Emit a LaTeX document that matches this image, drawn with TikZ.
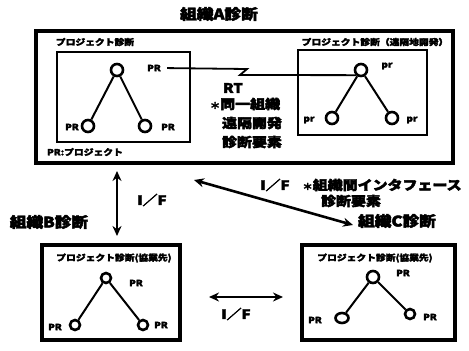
\documentclass[tikz,border=0pt]{standalone}
\usepackage{fontspec}
\newfontfamily\jp[FakeStretch=1.15,BoldFeatures={FakeBold=3}]{Noto Sans CJK JP}
\usetikzlibrary{arrows.meta,shapes.geometric}
\newcommand{\smast}{{\fontsize{9}{9}\selectfont ＊}}
\begin{document}
\begin{tikzpicture}[x=1pt,y=-1pt,
  outerbox/.style={draw,line width=3.5pt},
  innerbox/.style={draw,line width=2.2pt},
  pc/.style={circle,draw,line width=2.6pt,minimum size=12pt,inner sep=0pt},
  pcs/.style={pc,minimum size=10pt},
  edge/.style={line width=2pt},
  lbl/.style={font=\jp\bfseries\fontsize{8.5}{8.5}\selectfont,inner sep=0pt},
  sub/.style={font=\jp\bfseries\fontsize{8.5}{8.5}\selectfont,inner sep=0pt},
  mid/.style={font=\jp\bfseries\fontsize{13}{13}\selectfont,inner sep=0pt},
  big/.style={font=\jp\bfseries\fontsize{14.5}{14.5}\selectfont,inner sep=0pt},
  arr/.style={line width=2.6pt,{Stealth[length=10pt,width=9pt]}-{Stealth[length=10pt,width=9pt]}}]
\useasboundingbox (0,0) rectangle (469,351);
\fill[white] (0,0) rectangle (469,351);
% boxes
\draw[outerbox] (36,31) rectangle (453,163);
\draw[innerbox] (57,52) rectangle (190,142);
\draw[innerbox] (298,50) rectangle (427,135);
\draw[outerbox] (42,245) rectangle (180,340);
\draw[outerbox] (302,245) rectangle (455,340);
% titles
\node[big] (tA) at (219,14) {組織A診断};
\node[big] (tB) at (49,222) {組織B診断};
\node[big] (tC) at (397,221) {組織C診断};
\node[sub] (sA1) at (95,42) {プロジェクト診断};
\node[sub] (sA2) at (375,42) {プロジェクト診断（遠隔地開発）};
\node[sub] (sA3) at (85,152) {PR:プロジェクト};
\node[sub] (sB) at (114,258) {プロジェクト診断(協業先)};
\node[sub] (sC) at (375,258) {プロジェクト診断(協業先)};
% tree in box A left
\node[pc] (a1) at (117,70) {};
\node[pc] (a2) at (88,126) {};
\node[pc] (a3) at (145,126) {};
\draw[edge] (a1) -- (a2) (a1) -- (a3);
\node[lbl] (la1) at (154,68) {PR};
\node[lbl] (la2) at (72,127) {PR};
\node[lbl] (la3) at (168,127) {PR};
% tree in box A right
\node[pc] (b1) at (361,70) {};
\node[pc] (b2) at (332,118) {};
\node[pc] (b3) at (392,118) {};
\draw[edge] (b1) -- (b2) (b1) -- (b3);
\node[lbl] (lb1) at (387,66) {pr};
\node[lbl] (lb2) at (309,120) {pr};
\node[lbl] (lb3) at (412,120) {pr};
% RT link
\coordinate (z1) at (247,69);
\coordinate (z2) at (240,75);
\draw[line width=1.8pt,shorten <=6pt] (la1.east) -- (z1) -- (z2) -- (b1.south west);
\node[mid] (rt) at (233,88) {RT};
\node[mid] (rt2) at (245,104) {\smast 同一組織};
\node[mid] (rt3) at (252,123) {遠隔開発};
\node[mid] (rt4) at (252,142) {診断要素};
% tree in box B
\node[pcs] (c1) at (106,278) {};
\node[pcs] (c2) at (75,325) {};
\node[pcs] (c3) at (143,325) {};
\draw[edge] (c1) -- (c2) (c1) -- (c3);
\node[lbl] (lc1) at (136,283) {PR};
\node[lbl] (lc2) at (55,327) {PR};
\node[lbl] (lc3) at (161,325) {PR};
% tree in box C
\node[pc] (d1) at (373,277) {};
\node[ellipse,draw,line width=2.6pt,inner sep=0pt,minimum width=13pt,minimum height=10pt] (d2) at (342,318) {};
\node[pcs] (d3) at (410,314) {};
\draw[edge] (d1) -- (d2) (d1) -- (d3);
\node[lbl] (ld1) at (403,273) {PR};
\node[lbl] (ld2) at (315,320) {PR};
\node[lbl] (ld3) at (430,317) {PR};
% interface arrows
\coordinate (v1) at (117,171);
\coordinate (v2) at (117,236);
\draw[arr] (v1) -- (v2);
\node[mid] (if1) at (152,200) {I／F};
\coordinate (g1) at (194,180);
\coordinate (g2) at (353,225);
\draw[arr] (g1) -- (g2);
\node[mid] (if2) at (275,185) {I／F};
\node[mid] (if2b) at (382,185) {\smast 組織間インタフェース};
\node[mid] (if2c) at (351,201) {診断要素};
\coordinate (h1) at (209,297);
\coordinate (h2) at (283,297);
\draw[arr] (h1) -- (h2);
\node[mid] (if3) at (236,314) {I／F};
\end{tikzpicture}
\end{document}
